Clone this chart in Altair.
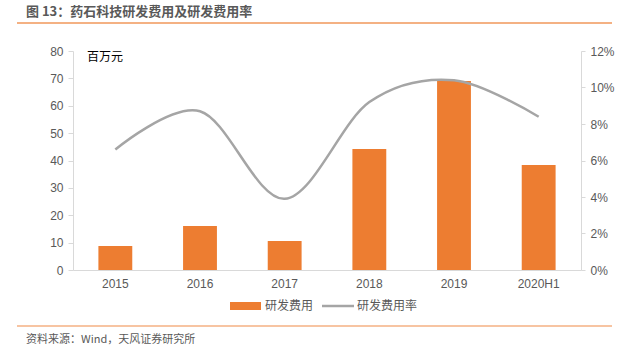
import altair as alt
import pandas as pd

years = ["2015", "2016", "2017", "2018", "2019", "2020H1"]
rd_expense = [8.8, 16.1, 10.6, 44.2, 69.0, 38.4]
rd_ratio = [0.066, 0.087, 0.039, 0.092, 0.104, 0.084]

title_text = "图 13：药石科技研发费用及研发费用率"
unit_text = "百万元"
legend_bar = "研发费用"
legend_line = "研发费用率"
source_text = "资料来源：Wind，天风证券研究所"

df = pd.DataFrame({"year": years, "rd": rd_expense, "ratio": rd_ratio})

CJK = "Noto Sans CJK SC"
LAT = "Liberation Sans"
W, H = 508, 219

x = alt.X("year:N", sort=years, title=None,
          scale=alt.Scale(paddingInner=0.6, paddingOuter=0.3),
          axis=alt.Axis(labelAngle=0, ticks=False, domainColor="#d9d9d9",
                        labelColor="#595959", labelFont=LAT, labelFontSize=12,
                        labelPadding=8))

bars = alt.Chart(df).mark_bar(color="#ed7d31").encode(
    x=x,
    y=alt.Y("rd:Q", title=None,
            scale=alt.Scale(domain=[0, 80], nice=False),
            axis=alt.Axis(values=list(range(0, 81, 10)), grid=False,
                          domainColor="#d9d9d9", tickColor="#d9d9d9", tickSize=5,
                          labelColor="#595959", labelFont=LAT, labelFontSize=12,
                          labelPadding=5)),
)

line = alt.Chart(df).mark_line(color="#a5a5a5", strokeWidth=2.5,
                                interpolate="cardinal", tension=0).encode(
    x=x,
    y=alt.Y("ratio:Q", title=None,
            scale=alt.Scale(domain=[0, 0.12], nice=False),
            axis=alt.Axis(orient="right", format=".0%",
                          values=[0, 0.02, 0.04, 0.06, 0.08, 0.10, 0.12], grid=False,
                          domainColor="#d9d9d9", tickColor="#d9d9d9", tickSize=4,
                          labelColor="#595959", labelFont=LAT, labelFontSize=12,
                          labelPadding=5)),
)

ann = pd.DataFrame({"t": [0]})
def txt(text, xv, yv, size=12, color="#000000", weight="normal", font=CJK, align="left"):
    return alt.Chart(ann).mark_text(text=text, align=align, baseline="middle",
                                    fontSize=size, color=color, fontWeight=weight,
                                    font=font).encode(x=alt.value(xv), y=alt.value(yv))

title = txt(title_text, -47, -39, size=13, color="#595959", weight="bold")
unit = txt(unit_text, 14, 6, size=12, color="#000000")
source = txt(source_text, -47, 289, size=11, color="#595959")

def hrule(x1, x2, yv, color, width):
    return alt.Chart(ann).mark_rule(color=color, strokeWidth=width).encode(
        x=alt.value(x1), x2=alt.value(x2), y=alt.value(yv))

top_line = hrule(-56, 539, -28, "#f4b183", 2)
bot_line = hrule(-56, 539, 275, "#f4b183", 1.5)

leg_y = 255
leg_bar = alt.Chart(ann).mark_rect(color="#ed7d31").encode(
    x=alt.value(157), x2=alt.value(188), y=alt.value(leg_y - 4), y2=alt.value(leg_y + 4))
leg_bar_t = txt(legend_bar, 192, leg_y, size=12, color="#595959")
leg_line = hrule(249, 281, leg_y, "#a5a5a5", 2.5)
leg_line_t = txt(legend_line, 284, leg_y, size=12, color="#595959")

main = alt.layer(bars, line).resolve_scale(y="independent")

chart = alt.layer(main, title, unit, source, top_line, bot_line,
                  leg_bar, leg_bar_t, leg_line, leg_line_t).properties(
    width=W, height=H,
    autosize=alt.AutoSizeParams(type="none"),
    padding={"left": 73, "top": 51, "right": 43, "bottom": 84},
    background="white",
).configure_view(stroke=None)

chart.save("out.html", embed_options={"renderer": "svg", "actions": False})
